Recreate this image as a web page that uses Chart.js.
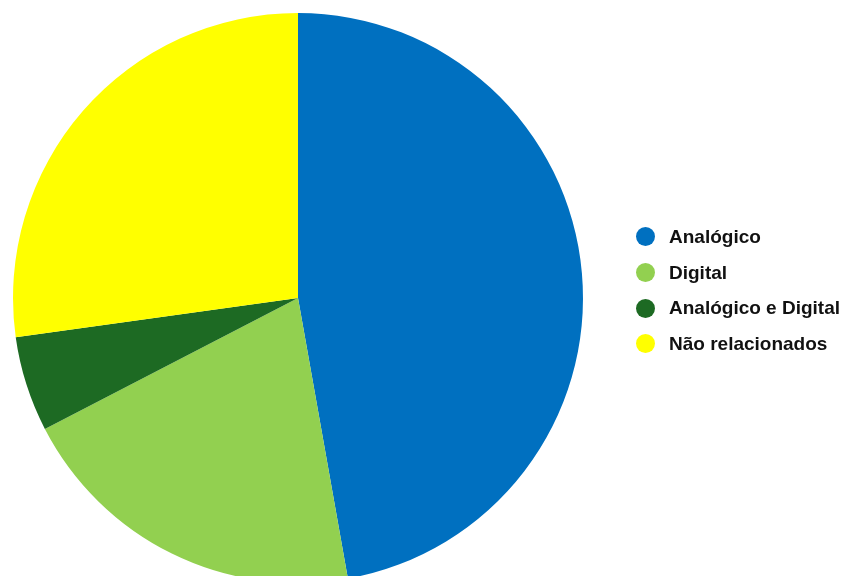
<!DOCTYPE html>
<html lang="pt-BR">
<head>
<meta charset="utf-8">
<title>Distribuição</title>
<script src="https://cdn.jsdelivr.net/npm/chart.js@4.4.1/dist/chart.umd.min.js"></script>
<style>
  html, body { margin: 0; padding: 0; background: #fff; overflow: hidden; }
  #wrap { position: relative; width: 848px; height: 576px; overflow: hidden; }
  #chartPizza { position: absolute; left: 0; top: 0; }
  #legenda {
    position: absolute; left: 636px; top: 219px;
    list-style: none; margin: 0; padding: 0;
    font: bold 19px "Liberation Sans", Arial, sans-serif; color: #111;
  }
  #legenda li { display: flex; align-items: center; height: 35.7px; white-space: nowrap; }
  #legenda .dot { width: 19px; height: 19px; border-radius: 50%; margin-right: 14px; flex: none; }
</style>
</head>
<body>
<div id="wrap">
  <canvas id="chartPizza" width="848" height="596"></canvas>
  <ul id="legenda"></ul>
</div>
<script>
  // categorias e percentuais (%)
  const categorias = ['Analógico', 'Digital', 'Analógico e Digital', 'Não relacionados'];
  const valores = [47.2, 20.2, 5.4, 27.2];
  const cores = ['#0070C0', '#92D050', '#1D6A23', '#FFFF00'];

  const $ = (id) => document.getElementById(id);

  // Pizza: área de 570x570, centro em (298, 298); a parte de baixo fica cortada
  new Chart($('chartPizza'), {
    type: 'pie',
    data: {
      labels: categorias,
      datasets: [{ data: valores, backgroundColor: cores, borderWidth: 0 }]
    },
    options: {
      responsive: false,
      animation: false,
      layout: { padding: { left: 13, top: 13, right: 265, bottom: 13 } },
      plugins: { legend: { display: false }, tooltip: { enabled: false } }
    }
  });

  // Legenda em HTML
  const ul = $('legenda');
  categorias.forEach((nome, i) => {
    const li = document.createElement('li');
    li.innerHTML = `<span class="dot" style="background:${cores[i]}"></span><span>${nome}</span>`;
    ul.appendChild(li);
  });
</script>
</body>
</html>
